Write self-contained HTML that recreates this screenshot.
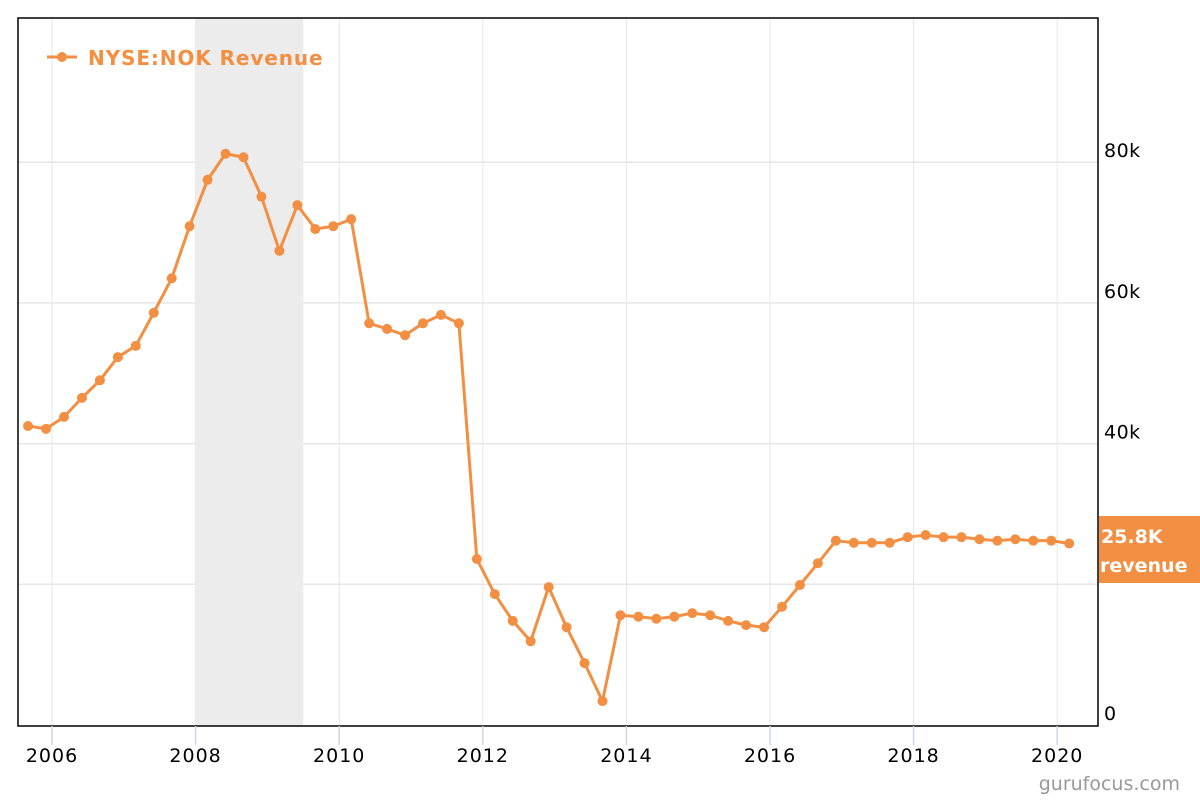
<!DOCTYPE html>
<html><head><meta charset="utf-8"><style>
body{margin:0;background:#fff;font-family:"DejaVu Sans","Liberation Sans",sans-serif;}
svg{display:block}
</style></head><body>
<svg id="chart" width="1200" height="800" xmlns="http://www.w3.org/2000/svg" font-family="DejaVu Sans, Liberation Sans, sans-serif">
<rect x="0" y="0" width="1200" height="800" fill="#fff"/>
<g id="grid"></g>
<g id="bands"></g>
<g id="series"></g>
<rect x="18" y="18" width="1080" height="708" fill="none" stroke="#000" stroke-width="1.5"/>
<g id="xaxis"></g>
<g id="yaxis"></g>
<g>
<line x1="47" y1="57" x2="77" y2="57" stroke="#f28f43" stroke-width="3"/>
<circle cx="62" cy="57" r="5" fill="#f28f43"/>
<text x="88" y="65" font-size="20" font-weight="bold" fill="#f28f43" letter-spacing="0.9">NYSE:NOK Revenue</text>
</g>
<g>
<rect x="1099" y="516" width="101" height="67" fill="#f28f43"/>
<text x="1101" y="543" font-size="19" font-weight="bold" fill="#fff">25.8K</text>
<text x="1100" y="572" font-size="19" font-weight="bold" fill="#fff">revenue</text>
</g>
<text x="1180" y="790" font-size="19" fill="#999" text-anchor="end">gurufocus.com</text>
</svg>
<script>
const startYear = 2005.667;
const values = [42.5,42.1,43.8,46.5,49.0,52.3,53.9,58.6,63.5,70.9,77.5,81.2,80.7,75.1,67.4,73.9,70.5,70.9,71.9,57.1,56.3,55.4,57.1,58.3,57.1,23.6,18.6,14.8,11.9,19.6,13.9,8.8,3.4,15.6,15.4,15.1,15.4,15.9,15.6,14.8,14.2,13.9,16.8,19.9,23.0,26.2,25.9,25.9,25.9,26.7,27.0,26.7,26.7,26.4,26.2,26.4,26.2,26.2,25.8];
const xTicks = [2006,2008,2010,2012,2014,2016,2018,2020];
const yTicks = [0,20,40,60,80];
const yTickLabels = ["0","20k","40k","60k","80k"];
const bandStart = [2008.0];
const bandEnd = [2009.5];
const NS="http://www.w3.org/2000/svg";
function X(t){return 52+(t-2006)*71.8;}
function Y(v){return 725-v*140.7/20;}
function mk(tag,attrs,parent){const e=document.createElementNS(NS,tag);for(const k in attrs)e.setAttribute(k,attrs[k]);parent.appendChild(e);return e;}
const grid=document.getElementById('grid'),bands=document.getElementById('bands'),series=document.getElementById('series'),xa=document.getElementById('xaxis'),ya=document.getElementById('yaxis');
xTicks.forEach(t=>{
 const l=mk('line',{x1:X(t),x2:X(t),y1:18,y2:726,stroke:'#e6e6e6','stroke-width':1},grid);
 
 
 const tk=mk('line',{x1:X(t),x2:X(t),y1:726,y2:745,stroke:'#ccd6eb','stroke-width':1.5},xa);
 
 
 const tx=mk('text',{x:X(t),y:762,'font-size':19,'text-anchor':'middle',fill:'#000','letter-spacing':1},xa);
 tx.textContent=t;
 
 
});
yTicks.forEach((v,i)=>{
 if(v>0){const l=mk('line',{x1:18,x2:1098,y1:Y(v),y2:Y(v),stroke:'#e6e6e6','stroke-width':1.5},grid);
 
 }
 const tx=mk('text',{x:1104,y:Y(v)-5,'font-size':19,fill:'#000','letter-spacing':0.5},ya);
 tx.textContent=yTickLabels[i];
 
 
});
bandStart.forEach((s,i)=>{
 const r=mk('rect',{x:X(s),y:18,width:X(bandEnd[i])-X(s),height:708,fill:'#ececec'},bands);
 
 
});
const pts=values.map((v,i)=>[X(startYear+i*0.25),Y(v)]);
const p=mk('polyline',{points:pts.map(q=>q.join(',')).join(' '),fill:'none',stroke:'#f28f43','stroke-width':3,'stroke-linejoin':'round'},series);


pts.forEach(q=>{
 const c=mk('circle',{cx:q[0],cy:q[1],r:5,fill:'#f28f43'},series);
 
 
});
</script>
</body></html>
